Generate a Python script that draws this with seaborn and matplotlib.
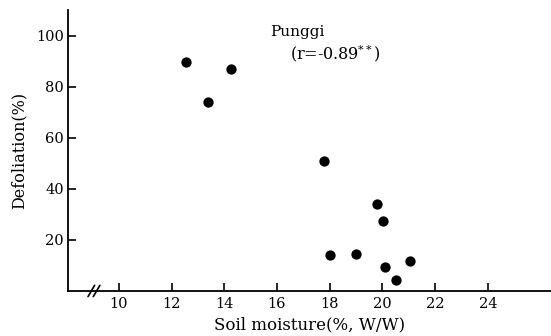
import seaborn as sns
import matplotlib.pyplot as plt
import pandas as pd

# Soil moisture (%, W/W) vs defoliation (%) at Punggi
moisture = [12.56, 14.27, 13.4, 17.78, 19.8, 20.04, 18.0, 19.0, 20.1, 20.5, 21.04]
defoliation = [89.6, 87.0, 74.0, 51.0, 34.0, 27.5, 14.2, 14.4, 9.2, 4.2, 11.8]
xticks = [10, 12, 14, 16, 18, 20, 22, 24]
yticks = [20, 40, 60, 80, 100]

df = pd.DataFrame({'moisture': moisture, 'defoliation': defoliation})

sns.set_style('ticks')
plt.rcParams['font.family'] = ['DejaVu Serif']
plt.rcParams['mathtext.fontset'] = 'dejavuserif'
for key in ['text.color', 'axes.labelcolor', 'xtick.color', 'ytick.color']:
    plt.rcParams[key] = 'black'

fig = plt.figure(figsize=(5.51, 3.36), dpi=100)
ax = fig.add_axes([0.1234, 0.134, 0.8766, 0.836])

sns.scatterplot(data=df, x='moisture', y='defoliation', color='black',
                s=55, edgecolor='black', linewidth=0, ax=ax)

ax.set_xlim(8.07, 26.4)
ax.set_ylim(0, 110)
ax.set_xticks(xticks)
ax.set_yticks(yticks)
ax.tick_params(direction='in', length=6, width=1.2, labelsize=10.5,
               pad=3)
ax.tick_params(axis='x', pad=4)
for side in ['top', 'right']:
    ax.spines[side].set_visible(False)
for side in ['left', 'bottom']:
    ax.spines[side].set_linewidth(1.3)
    ax.spines[side].set_color('black')

# axis break marks
for dx in [-0.12, 0.08]:
    ax.plot([8.95 + dx, 9.2 + dx], [-2.2, 2.2], color='black', lw=1.2,
            clip_on=False)

ax.set_xlabel('Soil moisture(%, W/W)', fontsize=12, labelpad=4)
ax.set_ylabel('Defoliation(%)', fontsize=11.5, labelpad=6)

ax.text(15.73, 101.5, 'Punggi', fontsize=11, va='center', ha='left')
ax.text(16.5, 93, '(r=-0.89$^{**}$)', fontsize=11.5, va='center', ha='left')

fig.savefig('out.png', dpi=100, facecolor='white')
